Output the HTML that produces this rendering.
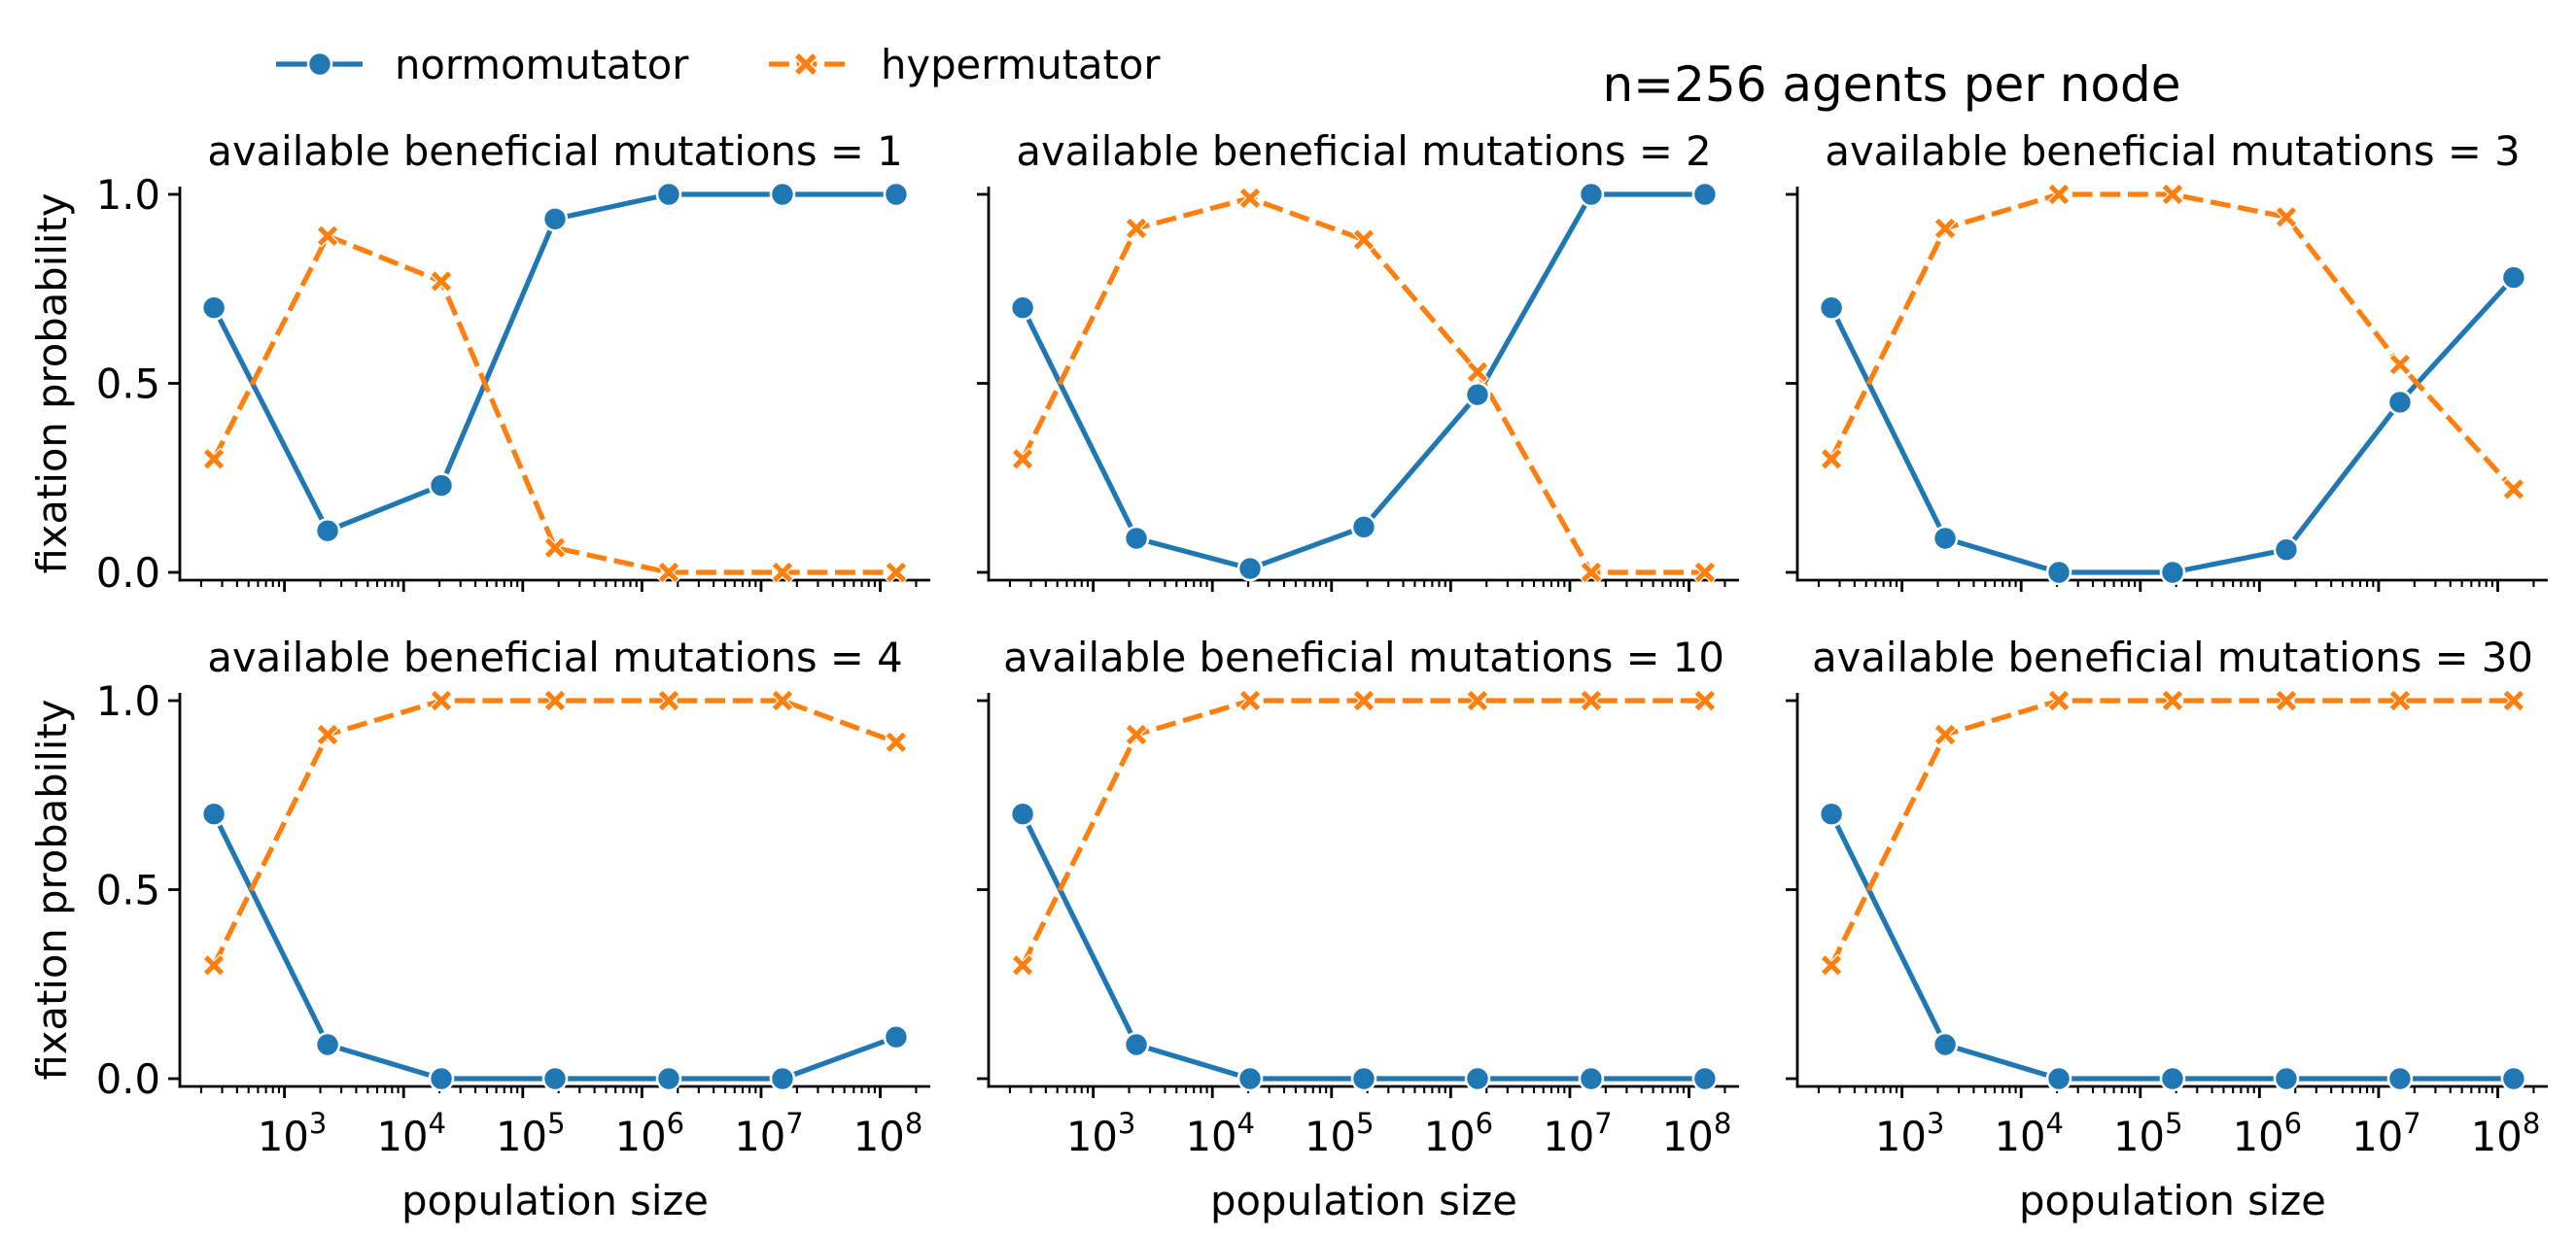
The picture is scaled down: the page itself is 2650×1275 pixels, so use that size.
<!DOCTYPE html>
<html><head><meta charset="utf-8">
<style>
html,body{margin:0;padding:0;background:#fff;}
svg{display:block;font-family:"DejaVu Sans","Liberation Sans",sans-serif;}
</style></head>
<body>
<svg id="chart" width="2650" height="1275" viewBox="0 0 2650 1275" xmlns="http://www.w3.org/2000/svg">
<rect width="2650" height="1275" fill="#fff"/>
<g id="legend">
  <g>
    <line x1="284" y1="66" x2="373" y2="66" stroke="#1f77b4" stroke-width="5.2"/>
    <circle cx="329" cy="66" r="12" fill="#1f77b4" stroke="#fff" stroke-width="2.6"/>
    <text x="406" y="81" font-size="41.7" fill="#000">normomutator</text>
  </g>
  <g>
    <line x1="791" y1="66" x2="871" y2="66" stroke="#ff7f0e" stroke-width="5.2" stroke-dasharray="20.8,7.8"/>
    <path d="M -12 -7 L -7 -12 L 0 -5 L 7 -12 L 12 -7 L 5 0 L 12 7 L 7 12 L 0 5 L -7 12 L -12 7 L -5 0 Z" transform="translate(829,66)" fill="#ff7f0e" stroke="#fff" stroke-width="1.5"/>
    <text x="906" y="81" font-size="41.7" fill="#000">hypermutator</text>
  </g>
</g>
<text x="1946" y="104" font-size="50" text-anchor="middle" fill="#000">n=256 agents per node</text>
<g id="panels"></g>
</svg>
<script>
const popSizes = [256, 2304, 20736, 186624, 1679616, 15116544, 136048896];
const panelTitles = ["available beneficial mutations = 1","available beneficial mutations = 2","available beneficial mutations = 3","available beneficial mutations = 4","available beneficial mutations = 10","available beneficial mutations = 30"];
const normo1 = [0.70, 0.11, 0.23, 0.935, 1.0, 1.0, 1.0];
const hyper1 = [0.30, 0.89, 0.77, 0.065, 0.0, 0.0, 0.0];
const normo2 = [0.70, 0.09, 0.01, 0.12, 0.47, 1.0, 1.0];
const hyper2 = [0.30, 0.91, 0.99, 0.88, 0.53, 0.0, 0.0];
const normo3 = [0.70, 0.09, 0.0, 0.0, 0.06, 0.45, 0.78];
const hyper3 = [0.30, 0.91, 1.0, 1.0, 0.94, 0.55, 0.22];
const normo4 = [0.70, 0.09, 0.0, 0.0, 0.0, 0.0, 0.11];
const hyper4 = [0.30, 0.91, 1.0, 1.0, 1.0, 1.0, 0.89];
const normo10 = [0.70, 0.09, 0.0, 0.0, 0.0, 0.0, 0.0];
const hyper10 = [0.30, 0.91, 1.0, 1.0, 1.0, 1.0, 1.0];
const normo30 = [0.70, 0.09, 0.0, 0.0, 0.0, 0.0, 0.0];
const hyper30 = [0.30, 0.91, 1.0, 1.0, 1.0, 1.0, 1.0];
const yTicks = [0.0, 0.5, 1.0];
const yTickLabels = ["0.0", "0.5", "1.0"];
const xDecades = [3, 4, 5, 6, 7, 8];

const normoAll = [normo1, normo2, normo3, normo4, normo10, normo30];
const hyperAll = [hyper1, hyper2, hyper3, hyper4, hyper10, hyper30];

const NS = "http://www.w3.org/2000/svg";
const root = document.getElementById("panels");
function mk(tag, attrs, parent){
  const e = document.createElementNS(NS, tag);
  for (const k in attrs) e.setAttribute(k, attrs[k]);
  (parent||root).appendChild(e);
  return e;
}
const colX = [185, 1017, 1849];
const rowY1 = [200, 721];
const W = 772, SPAN = 389;
const lmin = Math.log10(popSizes[0]), lmax = Math.log10(popSizes[popSizes.length-1]);
const lpad = (lmax - lmin) * 0.05;
const xLo = lmin - lpad, xHi = lmax + lpad;

for (let p = 0; p < 6; p++) {
  const r = Math.floor(p / 3), c = p % 3;
  const x0 = colX[c], y1 = rowY1[r], y0 = y1 + SPAN;
  const sx = v => x0 + (Math.log10(v) - xLo) / (xHi - xLo) * W;
  const sy = v => y0 - v * SPAN;
  const g = mk("g", {});
  
  
  const spineY = y0 + 8, topY = y1 - 8;
  const t = mk("text", {x: x0 + W/2, y: y1 - 30, "font-size": 41.7, "text-anchor": "middle", fill: "#000"}, g);
  t.textContent = panelTitles[p];
  
  
  const ys = mk("line", {x1: x0, y1: topY, x2: x0, y2: spineY + 1.4, stroke: "#000", "stroke-width": 2.8}, g);
  
  
  const xs = mk("line", {x1: x0 - 1.4, y1: spineY, x2: x0 + W, y2: spineY, stroke: "#000", "stroke-width": 2.8}, g);
  
  
  yTicks.forEach((v, i) => {
    const tk = mk("line", {x1: x0 - 12, y1: sy(v), x2: x0, y2: sy(v), stroke: "#000", "stroke-width": 2.8}, g);
    
    
    if (c === 0) {
      const tl = mk("text", {x: x0 - 20, y: sy(v) + 15, "font-size": 41.7, "text-anchor": "end", fill: "#000"}, g);
      tl.textContent = yTickLabels[i];
      
      
    }
  });
  for (let d = 2; d <= 8; d++) {
    for (let m = 2; m <= 9; m++) {
      const v = m * Math.pow(10, d);
      const lv = Math.log10(v);
      if (lv < xLo || lv > xHi) continue;
      const mt = mk("line", {x1: sx(v), y1: spineY, x2: sx(v), y2: spineY + 7, stroke: "#000", "stroke-width": 2.1}, g);
      
      
    }
  }
  xDecades.forEach(d => {
    const v = Math.pow(10, d);
    const mt = mk("line", {x1: sx(v), y1: spineY, x2: sx(v), y2: spineY + 12, stroke: "#000", "stroke-width": 2.8}, g);
    
    
    if (r === 1) {
      const tl = mk("text", {x: sx(v) + 8, y: spineY + 66, "font-size": 41.7, "text-anchor": "middle", fill: "#000"}, g);
      
      
      tl.appendChild(document.createTextNode("10"));
      const sup = document.createElementNS(NS, "tspan");
      sup.setAttribute("font-size", "29");
      sup.setAttribute("dy", "-18");
      sup.textContent = String(d);
      tl.appendChild(sup);
    }
  });
  if (r === 1) {
    const xl = mk("text", {x: x0 + W/2, y: spineY + 132, "font-size": 41.7, "text-anchor": "middle", fill: "#000"}, g);
    xl.textContent = "population size";
    
    
  }
  if (c === 0) {
    const cy = (y0 + y1) / 2;
    const yl = mk("text", {x: 0, y: 0, "font-size": 41.7, "text-anchor": "middle", fill: "#000", transform: "translate(68," + cy + ") rotate(-90)"}, g);
    yl.textContent = "fixation probability";
    
    
  }
  const nv = normoAll[p], hv = hyperAll[p];
  const nPts = popSizes.map((s, i) => sx(s).toFixed(1) + "," + sy(nv[i]).toFixed(1)).join(" ");
  const hPts = popSizes.map((s, i) => sx(s).toFixed(1) + "," + sy(hv[i]).toFixed(1)).join(" ");
  const nl = mk("polyline", {points: nPts, fill: "none", stroke: "#1f77b4", "stroke-width": 5.2, "stroke-linejoin": "round"}, g);
  
  
  const hl = mk("polyline", {points: hPts, fill: "none", stroke: "#ff7f0e", "stroke-width": 5.2, "stroke-dasharray": "20.8,7.8"}, g);
  
  
  popSizes.forEach((s, i) => {
    const cm = mk("circle", {cx: sx(s), cy: sy(nv[i]), r: 12, fill: "#1f77b4", stroke: "#fff", "stroke-width": 2.6}, g);
    
    
  });
  popSizes.forEach((s, i) => {
    const xm = mk("path", {d: "M -11 -6.5 L -6.5 -11 L 0 -4.5 L 6.5 -11 L 11 -6.5 L 4.5 0 L 11 6.5 L 6.5 11 L 0 4.5 L -6.5 11 L -11 6.5 L -4.5 0 Z", transform: "translate(" + sx(s) + "," + sy(hv[i]) + ")", fill: "#ff7f0e", stroke: "#fff", "stroke-width": 1.2}, g);
    
    
  });
}
</script>
</body></html>
